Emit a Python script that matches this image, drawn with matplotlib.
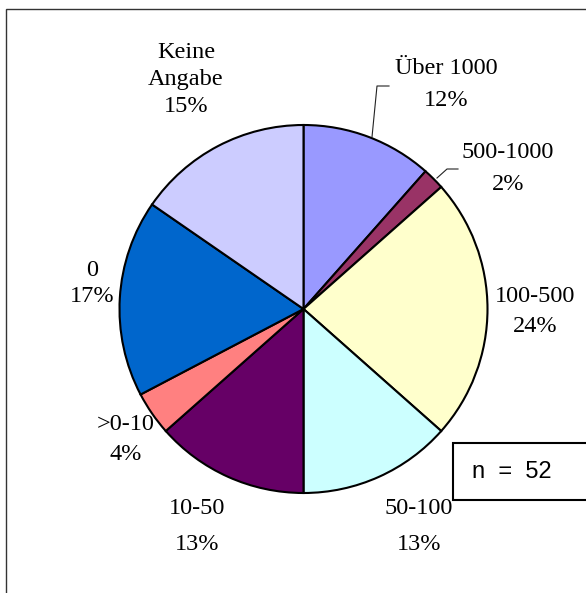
import matplotlib.pyplot as plt
from matplotlib.patches import Rectangle

# Verteilung (Uhrzeigersinn ab 12 Uhr), n = 52
categories = ['Über 1000', '500-1000', '100-500', '50-100', '10-50', '>0-10', '0', 'Keine Angabe']
counts = [6, 1, 12, 7, 7, 2, 9, 8]
pct_labels = ['12%', '2%', '24%', '13%', '13%', '4%', '17%', '15%']
colors = ['#9999FF', '#993366', '#FFFFCC', '#CCFFFF', '#660066', '#FF8080', '#0066CC', '#CCCCFF']
n_total = 52

W, H = 586, 593
fig = plt.figure(figsize=(W / 100, H / 100), dpi=100, facecolor='white')
ax = fig.add_axes([0, 0, 1, 1])

def py(y):
    return H - y

ax.pie(counts, colors=colors, startangle=90, counterclock=False,
       center=(303.5, py(309)), radius=184, frame=True,
       wedgeprops=dict(edgecolor='black', linewidth=1.5))
ax.set_xlim(0, W)
ax.set_ylim(0, H)
ax.set_aspect('equal')
ax.set_axis_off()

# Rahmen
ax.add_patch(Rectangle((6, py(H + 20)), W + 20, H + 11, fill=False, edgecolor='#333333', lw=1.0))

# Beschriftungen: x, y je Zeile (Pixel)
label_pos = [
    (446, [69, 101]),
    (508, [153, 185]),
    (535, [297, 327]),
    (419, [508, 545]),
    (197, [508, 545]),
    (126, [424, 454]),
    (92, [270, 297]),
    (186, [52, 80, 107]),
]
for cat, pct, (x, ys) in zip(categories, pct_labels, label_pos):
    lines = cat.split(' ') if cat == 'Keine Angabe' else [cat]
    for txt, y in zip(lines + [pct], ys):
        ax.text(x, py(y), txt, family='Liberation Serif', fontsize=17.5,
                ha='center', va='center')

# Führungslinien
ax.plot([372, 377, 389], [py(137), py(86), py(86)], color='#222222', lw=0.8)
ax.plot([437, 447, 458], [py(178), py(169), py(169)], color='#222222', lw=0.8)

# n-Box
ax.add_patch(Rectangle((453, py(500)), 200, 57, facecolor='white', edgecolor='black', lw=1.5))
ax.text(512, py(472), f'n  =  {n_total}', family='Liberation Sans', fontsize=17,
        ha='center', va='center')

fig.savefig('out.png', dpi=100, facecolor='white')
